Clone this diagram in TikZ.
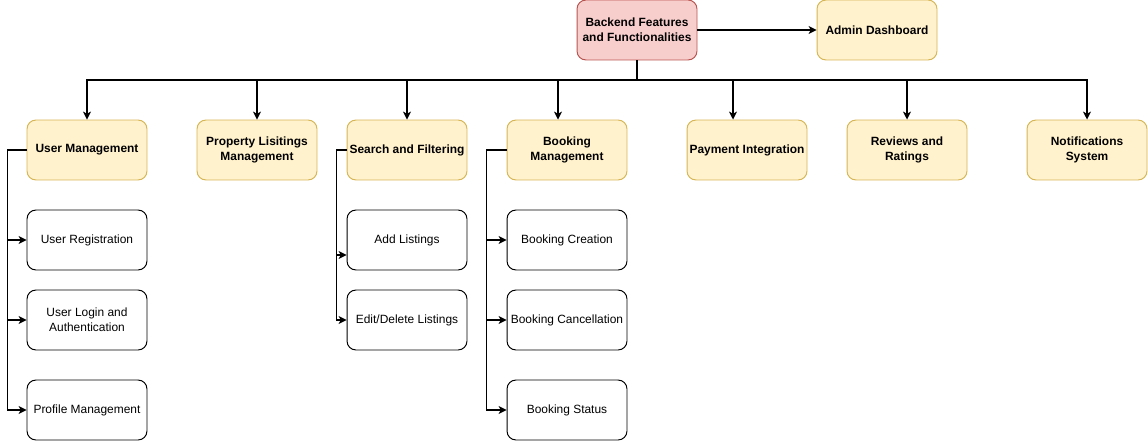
\documentclass[tikz,border=0pt]{standalone}
\usepackage{fontspec}
\setmainfont{Liberation Sans}
\usepackage{xcolor}
\usetikzlibrary{arrows.meta}

\definecolor{featfill}{HTML}{FFF2CC}
\definecolor{featline}{HTML}{D6B656}
\definecolor{rootfill}{HTML}{F8CECC}
\definecolor{rootline}{HTML}{B85450}

\tikzset{
    basebox/.style={draw, rounded corners=0.18cm, minimum width=2.4cm, minimum height=1.2cm,
        inner sep=1pt, align=center, line width=0.55pt, font=\fontsize{6.8}{8.5}\selectfont},
    featbox/.style={basebox, fill=featfill, draw=featline, font=\fontsize{6.8}{8.5}\selectfont\bfseries},
    rootbox/.style={basebox, fill=rootfill, draw=rootline, font=\fontsize{6.8}{8.5}\selectfont\bfseries},
    subbox/.style={basebox, fill=white, draw=black},
    link/.style={draw=black, line width=0.6pt, -{Stealth[length=4.5pt, width=4.5pt, inset=1.2pt]}}
}

\begin{document}
\begin{tikzpicture}[x=0.02cm, y=-0.02cm]
    \useasboundingbox (0,0) rectangle (1148,442);

    % --- 1. TOP ROW ---
    \node[rootbox] (root) at (637,30) {Backend Features\\and Functionalities};
    \node[featbox] (admin) at (877,30) {Admin Dashboard};

    % --- 2. FEATURE ROW ---
    \node[featbox] (um) at (87,150)   {User Management};
    \node[featbox] (pl) at (257,150)  {Property Lisitings\\Management};
    \node[featbox] (sf) at (407,150)  {Search and Filtering};
    \node[featbox] (bm) at (567,150)  {Booking\\Management};
    \node[featbox] (pi) at (747,150)  {Payment Integration};
    \node[featbox] (rr) at (907,150)  {Reviews and\\Ratings};
    \node[featbox] (ns) at (1087,150) {Notifications\\System};

    % --- 3. SUB FEATURES ---
    \node[subbox] (ureg)  at (87,240)  {User Registration};
    \node[subbox] (ulog)  at (87,320)  {User Login and\\Authentication};
    \node[subbox] (uprof) at (87,410)  {Profile Management};

    \node[subbox] (ladd)  at (407,240) {Add Listings};
    \node[subbox] (ledit) at (407,320) {Edit/Delete Listings};

    \node[subbox] (bcre)  at (567,240) {Booking Creation};
    \node[subbox] (bcan)  at (567,320) {Booking Cancellation};
    \node[subbox] (bsta)  at (567,410) {Booking Status};

    % --- 4. CONNECTORS ---
    \coordinate (bus) at (637,80);
    \draw[link] (root.east) -- (admin.west);
    \draw[line width=0.6pt] (root.south) -- (bus);
    % (child / shift of the drop along the bus)
    \foreach \n/\dx in {um/0, pl/0, sf/0, bm/-9, pi/-14, rr/0, ns/0} {
        \draw[link] (bus) -| ([xshift=\dx*0.02cm]\n.north);
    }

    % left-hand trees
    \foreach \k in {ureg, ulog, uprof} {
        \draw[link] (um.west) -- ++(-19,0) |- (\k.west);
    }
    \draw[link] (sf.west) -- ++(-10,0) |- ([yshift=-0.3cm]ladd.west);
    \draw[link] (sf.west) -- ++(-10,0) |- (ledit.west);
    \foreach \k in {bcre, bcan, bsta} {
        \draw[link] (bm.west) -- ++(-20,0) |- (\k.west);
    }

\end{tikzpicture}
\end{document}
